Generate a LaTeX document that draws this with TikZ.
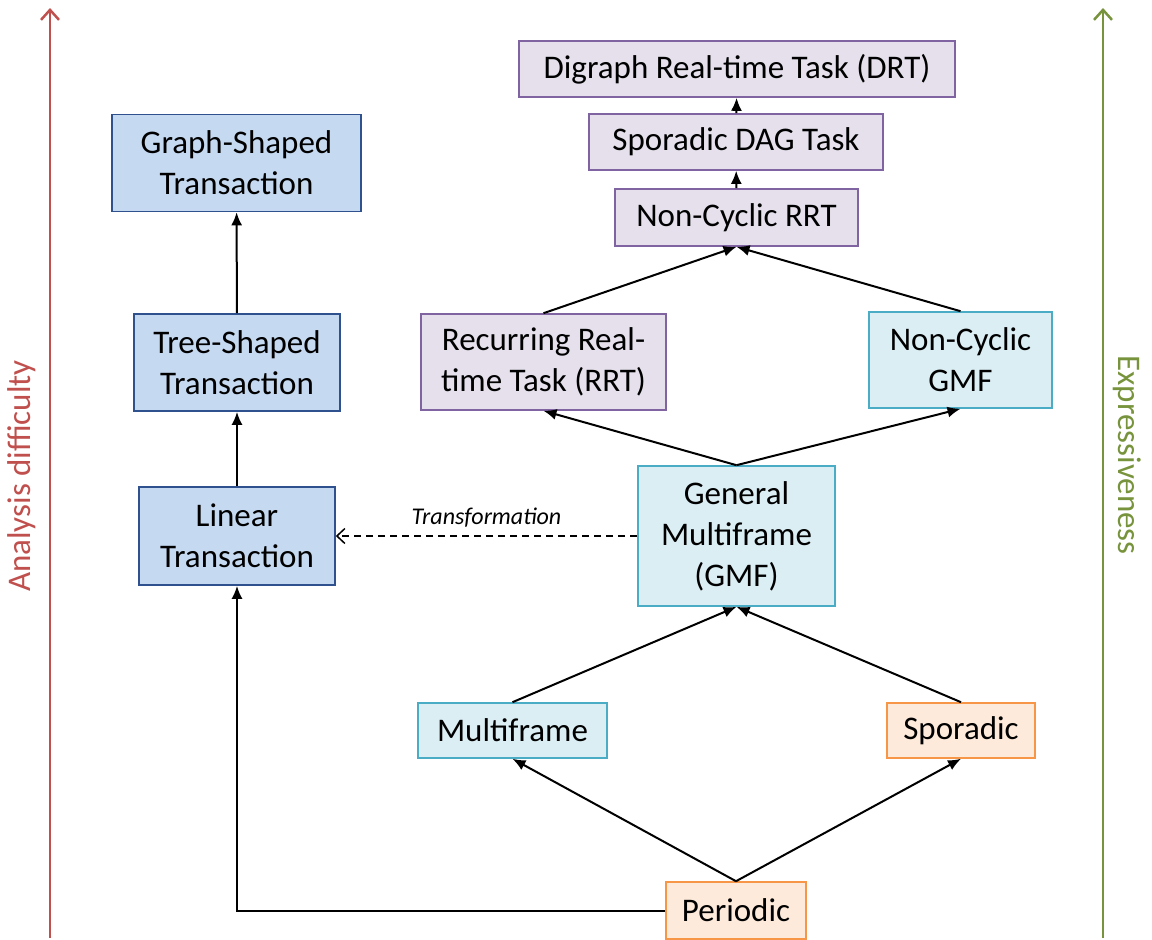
\documentclass[tikz,border=0pt]{standalone}
\usepackage{fontspec}
\setmainfont{Carlito}
\usepackage{tikz}
\usetikzlibrary{positioning,arrows.meta}

\definecolor{transfill}{RGB}{197,217,241}
\definecolor{transline}{RGB}{47,82,143}
\definecolor{purfill}{RGB}{229,224,236}
\definecolor{purline}{RGB}{128,100,162}
\definecolor{cyanfill}{RGB}{219,238,244}
\definecolor{cyanline}{RGB}{75,172,198}
\definecolor{orfill}{RGB}{253,234,218}
\definecolor{orline}{RGB}{247,150,70}
\definecolor{axred}{RGB}{192,80,77}
\definecolor{axgreen}{RGB}{119,147,60}

\begin{document}
\begin{tikzpicture}[x=1pt,y=-1pt,>={Latex[length=13pt,width=11pt]},
	box/.style={draw,line width=1.6pt,align=center,inner sep=0pt,
		font=\fontsize{33}{41}\selectfont},
	trans/.style={box,fill=transfill,draw=transline},
	rtask/.style={box,fill=purfill,draw=purline},
	gtask/.style={box,fill=cyanfill,draw=cyanline},
	stask/.style={box,fill=orfill,draw=orline},
	axis/.style={line width=2.5pt,-{Straight Barb[length=10pt,width=18pt]}},
	edge/.style={line width=2pt,->}]
\useasboundingbox (0,0) rectangle (1152,940);

% axes
\coordinate (RedLow) at (50,938);
\coordinate (RedHigh) at (50,8);
\coordinate (GreenLow) at (1103,938);
\coordinate (GreenHigh) at (1103,8);
\draw[axis,axred] (RedLow) -- (RedHigh);
\draw[axis,axgreen] (GreenLow) -- (GreenHigh);
\node[rotate=90,text=axred,font=\fontsize{33}{41}\selectfont] (Difficulty) at (22,476) {Analysis difficulty};
\node[rotate=-90,text=axgreen,font=\fontsize{33}{41}\selectfont] (Express) at (1127,455) {Expressiveness};

% transactions
\node[trans,minimum width=249,minimum height=97] (Graph) at (236.5,163) {Graph-Shaped\\Transaction};
\node[trans,minimum width=206,minimum height=97] (Tree) at (237,362.5) {Tree-Shaped\\Transaction};
\node[trans,minimum width=196,minimum height=98] (Linear) at (237,536) {Linear\\Transaction};

% task models
\node[rtask,minimum width=436,minimum height=56] (DRT) at (737,69) {Digraph Real-time Task (DRT)};
\node[rtask,minimum width=294,minimum height=56] (DAG) at (736,142) {Sporadic DAG Task};
\node[rtask,minimum width=243,minimum height=57] (NCRRT) at (736.5,217.5) {Non-Cyclic RRT};
\node[rtask,minimum width=245,minimum height=96] (RRT) at (543.5,362) {Recurring Real-\\time Task (RRT)};
\node[gtask,minimum width=183,minimum height=96] (NCGMF) at (960.5,360) {Non-Cyclic\\GMF};
\node[gtask,minimum width=197,minimum height=140] (GMF) at (736.5,536) {General\\Multiframe\\(GMF)};
\node[gtask,minimum width=189,minimum height=55] (Multi) at (512.5,730.5) {Multiframe};
\node[stask,minimum width=148,minimum height=55] (Spor) at (961,730.5) {Sporadic};
\node[stask,minimum width=140,minimum height=57] (Periodic) at (736,910.5) {Periodic};

\draw[edge] (Tree) -- (Graph);
\draw[edge] (Linear) -- (Tree);
\draw[edge] (Periodic.west) -| (Linear.south);
\draw[line width=1.5pt,dash pattern=on 7pt off 5pt,-{Straight Barb[length=8pt,width=15pt]}] (GMF.west)
	-- node[above=5pt,font=\fontsize{24}{28}\selectfont\itshape]{Transformation} (Linear.east);

\draw[edge] (Periodic.north) -- (Multi.south);
\draw[edge] (Periodic.north) -- (Spor.south);
\draw[edge] (Multi.north) -- (GMF.south);
\draw[edge] (Spor.north) -- (GMF.south);
\draw[edge] (GMF.north) -- (RRT.south);
\draw[edge] (GMF.north) -- (NCGMF.south);
\draw[edge] (RRT.north) -- (NCRRT.south);
\draw[edge] (NCGMF.north) -- (NCRRT.south);
\draw[edge] (NCRRT) -- (DAG);
\draw[edge] (DAG) -- (DRT);
\end{tikzpicture}
\end{document}
